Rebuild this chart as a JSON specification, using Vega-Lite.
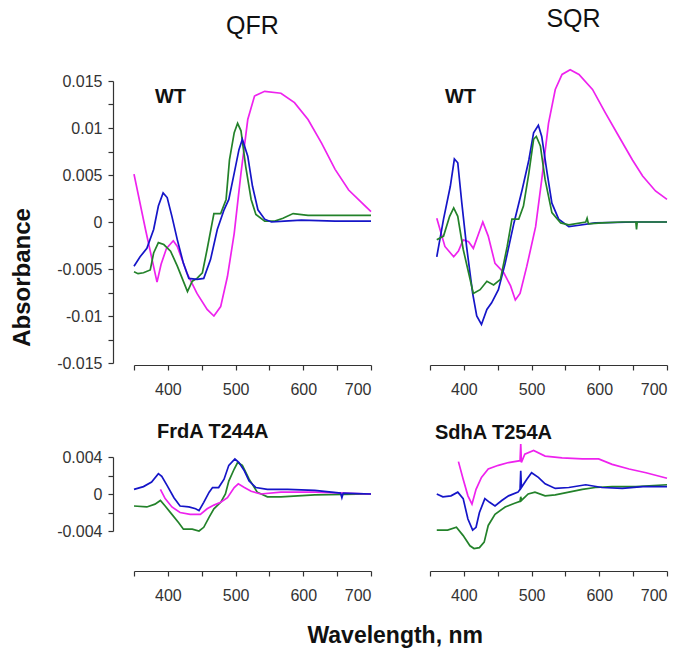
{
  "$schema": "https://vega.github.io/schema/vega-lite/v6.json",
  "background": "white",
  "padding": {"left": 10, "top": 7, "right": 5, "bottom": 2},
  "config": {
    "view": {"stroke": null},
    "font": "Liberation Sans",
    "axis": {"domainColor": "#333", "tickColor": "#333", "labelColor": "#333", "labelFontSize": 16, "labelFont": "Liberation Sans", "grid": false, "tickSize": 5, "domainWidth": 1.2, "tickWidth": 1.2, "labelOverlap": false}
  },
  "title": {"text": "Wavelength, nm", "orient": "bottom", "anchor": "middle", "fontSize": 23, "fontWeight": "bold", "font": "Liberation Sans", "color": "#111", "offset": 22, "dx": 55},
  "datasets": {
    "qfr_wt": [
      {"s":"m","x":350,"y":0.0051},{"s":"m","x":367,"y":-0.0008},{"s":"m","x":384,"y":-0.0064},{"s":"m","x":390,"y":-0.0045},{"s":"m","x":398,"y":-0.0028},{"s":"m","x":408,"y":-0.0020},{"s":"m","x":414,"y":-0.0026},{"s":"m","x":428,"y":-0.0054},{"s":"m","x":443,"y":-0.0076},{"s":"m","x":458,"y":-0.0093},{"s":"m","x":468,"y":-0.0100},{"s":"m","x":478,"y":-0.0090},{"s":"m","x":488,"y":-0.0058},{"s":"m","x":498,"y":-0.0012},{"s":"m","x":508,"y":0.0052},{"s":"m","x":518,"y":0.0109},{"s":"m","x":528,"y":0.0134},{"s":"m","x":543,"y":0.0139},{"s":"m","x":567,"y":0.0137},{"s":"m","x":587,"y":0.0127},{"s":"m","x":607,"y":0.0109},{"s":"m","x":627,"y":0.0084},{"s":"m","x":647,"y":0.0056},{"s":"m","x":667,"y":0.0034},{"s":"m","x":687,"y":0.0020},{"s":"m","x":700,"y":0.0011},
      {"s":"g","x":350,"y":-0.0053},{"s":"g","x":356,"y":-0.0055},{"s":"g","x":364,"y":-0.0054},{"s":"g","x":374,"y":-0.0051},{"s":"g","x":379,"y":-0.0033},{"s":"g","x":386,"y":-0.0022},{"s":"g","x":394,"y":-0.0024},{"s":"g","x":404,"y":-0.0031},{"s":"g","x":414,"y":-0.0047},{"s":"g","x":424,"y":-0.0065},{"s":"g","x":429,"y":-0.0074},{"s":"g","x":436,"y":-0.0063},{"s":"g","x":443,"y":-0.0060},{"s":"g","x":451,"y":-0.0054},{"s":"g","x":458,"y":-0.0029},{"s":"g","x":468,"y":0.0009},{"s":"g","x":478,"y":0.0009},{"s":"g","x":486,"y":0.0024},{"s":"g","x":491,"y":0.0066},{"s":"g","x":498,"y":0.0095},{"s":"g","x":503,"y":0.0105},{"s":"g","x":508,"y":0.0097},{"s":"g","x":515,"y":0.0059},{"s":"g","x":523,"y":0.0024},{"s":"g","x":530,"y":0.0008},{"s":"g","x":543,"y":0.0001},{"s":"g","x":558,"y":0.0001},{"s":"g","x":570,"y":0.0004},{"s":"g","x":585,"y":0.0009},{"s":"g","x":607,"y":0.0007},{"s":"g","x":647,"y":0.0007},{"s":"g","x":700,"y":0.0007},
      {"s":"b","x":350,"y":-0.0047},{"s":"b","x":359,"y":-0.0037},{"s":"b","x":369,"y":-0.0028},{"s":"b","x":379,"y":-0.0008},{"s":"b","x":386,"y":0.0017},{"s":"b","x":393,"y":0.0031},{"s":"b","x":399,"y":0.0026},{"s":"b","x":406,"y":0.0006},{"s":"b","x":414,"y":-0.0019},{"s":"b","x":423,"y":-0.0044},{"s":"b","x":431,"y":-0.0060},{"s":"b","x":443,"y":-0.0061},{"s":"b","x":453,"y":-0.0060},{"s":"b","x":463,"y":-0.0040},{"s":"b","x":473,"y":-0.0008},{"s":"b","x":483,"y":0.0013},{"s":"b","x":490,"y":0.0024},{"s":"b","x":498,"y":0.0052},{"s":"b","x":505,"y":0.0077},{"s":"b","x":510,"y":0.0088},{"s":"b","x":518,"y":0.0070},{"s":"b","x":525,"y":0.0038},{"s":"b","x":533,"y":0.0013},{"s":"b","x":543,"y":0.0003},{"s":"b","x":553,"y":0.0000},{"s":"b","x":572,"y":0.0001},{"s":"b","x":597,"y":0.0002},{"s":"b","x":647,"y":0.0001},{"s":"b","x":700,"y":0.0001}
    ],
    "sqr_wt": [
      {"s":"m","x":360,"y":0.0004},{"s":"m","x":372,"y":-0.0026},{"s":"m","x":385,"y":-0.0037},{"s":"m","x":392,"y":-0.0031},{"s":"m","x":399,"y":-0.0019},{"s":"m","x":407,"y":-0.0021},{"s":"m","x":414,"y":-0.0028},{"s":"m","x":422,"y":-0.0012},{"s":"m","x":428,"y":0.0000},{"s":"m","x":436,"y":-0.0015},{"s":"m","x":446,"y":-0.0044},{"s":"m","x":459,"y":-0.0054},{"s":"m","x":469,"y":-0.0068},{"s":"m","x":476,"y":-0.0083},{"s":"m","x":483,"y":-0.0076},{"s":"m","x":493,"y":-0.0047},{"s":"m","x":506,"y":-0.0005},{"s":"m","x":515,"y":0.0045},{"s":"m","x":525,"y":0.0105},{"s":"m","x":535,"y":0.0141},{"s":"m","x":545,"y":0.0157},{"s":"m","x":557,"y":0.0162},{"s":"m","x":570,"y":0.0157},{"s":"m","x":590,"y":0.0141},{"s":"m","x":609,"y":0.0116},{"s":"m","x":629,"y":0.0091},{"s":"m","x":649,"y":0.0066},{"s":"m","x":664,"y":0.0049},{"s":"m","x":683,"y":0.0033},{"s":"m","x":700,"y":0.0024},
      {"s":"b","x":360,"y":-0.0037},{"s":"b","x":370,"y":0.0003},{"s":"b","x":380,"y":0.0038},{"s":"b","x":386,"y":0.0067},{"s":"b","x":391,"y":0.0063},{"s":"b","x":397,"y":0.0020},{"s":"b","x":404,"y":-0.0026},{"s":"b","x":413,"y":-0.0076},{"s":"b","x":419,"y":-0.0100},{"s":"b","x":426,"y":-0.0109},{"s":"b","x":434,"y":-0.0093},{"s":"b","x":441,"y":-0.0086},{"s":"b","x":451,"y":-0.0072},{"s":"b","x":461,"y":-0.0044},{"s":"b","x":474,"y":-0.0001},{"s":"b","x":486,"y":0.0034},{"s":"b","x":496,"y":0.0066},{"s":"b","x":503,"y":0.0095},{"s":"b","x":510,"y":0.0103},{"s":"b","x":515,"y":0.0091},{"s":"b","x":523,"y":0.0052},{"s":"b","x":530,"y":0.0020},{"s":"b","x":540,"y":0.0003},{"s":"b","x":555,"y":-0.0005},{"s":"b","x":565,"y":-0.0004},{"s":"b","x":594,"y":-0.0001},{"s":"b","x":654,"y":0.0000},{"s":"b","x":700,"y":0.0000},
      {"s":"g","x":360,"y":-0.0019},{"s":"g","x":370,"y":-0.0015},{"s":"g","x":379,"y":0.0006},{"s":"g","x":385,"y":0.0015},{"s":"g","x":391,"y":0.0006},{"s":"g","x":399,"y":-0.0029},{"s":"g","x":407,"y":-0.0054},{"s":"g","x":414,"y":-0.0076},{"s":"g","x":424,"y":-0.0072},{"s":"g","x":434,"y":-0.0063},{"s":"g","x":444,"y":-0.0067},{"s":"g","x":454,"y":-0.0061},{"s":"g","x":464,"y":-0.0026},{"s":"g","x":471,"y":0.0003},{"s":"g","x":481,"y":0.0003},{"s":"g","x":488,"y":0.0017},{"s":"g","x":496,"y":0.0052},{"s":"g","x":503,"y":0.0088},{"s":"g","x":507,"y":0.0091},{"s":"g","x":513,"y":0.0081},{"s":"g","x":520,"y":0.0045},{"s":"g","x":530,"y":0.0010},{"s":"g","x":543,"y":-0.0001},{"s":"g","x":555,"y":-0.0003},{"s":"g","x":580,"y":0.0000},{"s":"g","x":582,"y":0.0004},{"s":"g","x":584,"y":-0.0002},{"s":"g","x":604,"y":-0.0001},{"s":"g","x":634,"y":0.0000},{"s":"g","x":654,"y":0.0000},{"s":"g","x":655,"y":-0.0008},{"s":"g","x":656,"y":0.0000},{"s":"g","x":700,"y":0.0000}
    ],
    "frda": [
      {"s":"g","x":350,"y":-0.0013},{"s":"g","x":369,"y":-0.0014},{"s":"g","x":381,"y":-0.0011},{"s":"g","x":389,"y":-0.0007},{"s":"g","x":396,"y":-0.0013},{"s":"g","x":406,"y":-0.0022},{"s":"g","x":416,"y":-0.0031},{"s":"g","x":423,"y":-0.0038},{"s":"g","x":436,"y":-0.0038},{"s":"g","x":446,"y":-0.0040},{"s":"g","x":453,"y":-0.0036},{"s":"g","x":461,"y":-0.0025},{"s":"g","x":468,"y":-0.0016},{"s":"g","x":478,"y":-0.0009},{"s":"g","x":485,"y":0.0000},{"s":"g","x":490,"y":0.0014},{"s":"g","x":498,"y":0.0027},{"s":"g","x":503,"y":0.0034},{"s":"g","x":510,"y":0.0031},{"s":"g","x":520,"y":0.0016},{"s":"g","x":532,"y":0.0002},{"s":"g","x":547,"y":-0.0003},{"s":"g","x":567,"y":-0.0003},{"s":"g","x":617,"y":-0.0001},{"s":"g","x":700,"y":0.0000},
      {"s":"m","x":389,"y":0.0005},{"s":"m","x":396,"y":-0.0005},{"s":"m","x":406,"y":-0.0014},{"s":"m","x":418,"y":-0.0020},{"s":"m","x":433,"y":-0.0022},{"s":"m","x":448,"y":-0.0022},{"s":"m","x":458,"y":-0.0016},{"s":"m","x":468,"y":-0.0012},{"s":"m","x":478,"y":-0.0009},{"s":"m","x":488,"y":-0.0004},{"s":"m","x":498,"y":0.0007},{"s":"m","x":504,"y":0.0011},{"s":"m","x":513,"y":0.0007},{"s":"m","x":523,"y":0.0003},{"s":"m","x":537,"y":0.0000},{"s":"m","x":567,"y":0.0002},{"s":"m","x":617,"y":0.0002},{"s":"m","x":700,"y":0.0000},
      {"s":"b","x":350,"y":0.0005},{"s":"b","x":364,"y":0.0008},{"s":"b","x":376,"y":0.0013},{"s":"b","x":386,"y":0.0022},{"s":"b","x":391,"y":0.0019},{"s":"b","x":399,"y":0.0009},{"s":"b","x":409,"y":-0.0004},{"s":"b","x":418,"y":-0.0013},{"s":"b","x":431,"y":-0.0014},{"s":"b","x":441,"y":-0.0016},{"s":"b","x":446,"y":-0.0018},{"s":"b","x":453,"y":-0.0009},{"s":"b","x":461,"y":0.0002},{"s":"b","x":466,"y":0.0007},{"s":"b","x":475,"y":0.0007},{"s":"b","x":483,"y":0.0016},{"s":"b","x":490,"y":0.0031},{"s":"b","x":499,"y":0.0038},{"s":"b","x":505,"y":0.0034},{"s":"b","x":513,"y":0.0025},{"s":"b","x":520,"y":0.0014},{"s":"b","x":530,"y":0.0007},{"s":"b","x":547,"y":0.0005},{"s":"b","x":577,"y":0.0005},{"s":"b","x":617,"y":0.0004},{"s":"b","x":655,"y":0.0001},{"s":"b","x":657,"y":-0.0004},{"s":"b","x":659,"y":0.0001},{"s":"b","x":700,"y":0.0000}
    ],
    "sdha": [
      {"s":"m","x":392,"y":0.0035},{"s":"m","x":399,"y":0.0016},{"s":"m","x":406,"y":-0.0002},{"s":"m","x":412,"y":-0.0011},{"s":"m","x":418,"y":0.0005},{"s":"m","x":426,"y":0.0018},{"s":"m","x":436,"y":0.0027},{"s":"m","x":451,"y":0.0031},{"s":"m","x":466,"y":0.0034},{"s":"m","x":483,"y":0.0036},{"s":"m","x":484,"y":0.0054},{"s":"m","x":485,"y":0.0034},{"s":"m","x":490,"y":0.0043},{"s":"m","x":503,"y":0.0047},{"s":"m","x":520,"y":0.0041},{"s":"m","x":545,"y":0.0039},{"s":"m","x":575,"y":0.0038},{"s":"m","x":599,"y":0.0038},{"s":"m","x":619,"y":0.0032},{"s":"m","x":644,"y":0.0027},{"s":"m","x":669,"y":0.0023},{"s":"m","x":700,"y":0.0017},
      {"s":"g","x":360,"y":-0.0039},{"s":"g","x":376,"y":-0.0039},{"s":"g","x":389,"y":-0.0036},{"s":"g","x":399,"y":-0.0045},{"s":"g","x":409,"y":-0.0056},{"s":"g","x":415,"y":-0.0059},{"s":"g","x":423,"y":-0.0058},{"s":"g","x":430,"y":-0.0052},{"s":"g","x":436,"y":-0.0034},{"s":"g","x":446,"y":-0.0022},{"s":"g","x":461,"y":-0.0014},{"s":"g","x":475,"y":-0.0010},{"s":"g","x":483,"y":-0.0008},{"s":"g","x":484,"y":-0.0003},{"s":"g","x":485,"y":-0.0007},{"s":"g","x":495,"y":0.0000},{"s":"g","x":505,"y":0.0002},{"s":"g","x":520,"y":-0.0002},{"s":"g","x":535,"y":-0.0001},{"s":"g","x":555,"y":0.0002},{"s":"g","x":575,"y":0.0005},{"s":"g","x":594,"y":0.0007},{"s":"g","x":619,"y":0.0008},{"s":"g","x":654,"y":0.0008},{"s":"g","x":700,"y":0.0010},
      {"s":"b","x":360,"y":0.0000},{"s":"b","x":369,"y":-0.0003},{"s":"b","x":381,"y":-0.0002},{"s":"b","x":391,"y":0.0002},{"s":"b","x":399,"y":-0.0005},{"s":"b","x":406,"y":-0.0027},{"s":"b","x":413,"y":-0.0039},{"s":"b","x":418,"y":-0.0036},{"s":"b","x":423,"y":-0.0020},{"s":"b","x":431,"y":-0.0005},{"s":"b","x":438,"y":-0.0009},{"s":"b","x":446,"y":-0.0013},{"s":"b","x":456,"y":-0.0007},{"s":"b","x":466,"y":-0.0002},{"s":"b","x":480,"y":0.0002},{"s":"b","x":483,"y":0.0005},{"s":"b","x":484,"y":0.0025},{"s":"b","x":485,"y":0.0007},{"s":"b","x":493,"y":0.0016},{"s":"b","x":500,"y":0.0023},{"s":"b","x":510,"y":0.0018},{"s":"b","x":520,"y":0.0011},{"s":"b","x":535,"y":0.0006},{"s":"b","x":555,"y":0.0007},{"s":"b","x":580,"y":0.0010},{"s":"b","x":604,"y":0.0007},{"s":"b","x":634,"y":0.0006},{"s":"b","x":664,"y":0.0008},{"s":"b","x":700,"y":0.0008}
    ]
  },
  "columns": 2,
  "align": "each",
  "spacing": {"row": 25, "column": 54},
  "concat": [
    {
      "width": 237, "height": 282,
      "title": {"text": "QFR", "fontSize": 25, "fontWeight": "normal", "anchor": "middle", "frame": "group", "offset": 14, "baseline": "alphabetic", "color": "#111", "font": "Liberation Sans"},
      "encoding": {
        "x": {"field": "x", "type": "quantitative", "scale": {"domain": [350, 700], "nice": false, "zero": false},
              "axis": {"values": [350,400,450,500,550,600,650,700], "labelExpr": "datum.value % 100 === 0 ? datum.label : ''", "format": "d", "title": null, "offset": 2, "labelPadding": 11}},
        "y": {"field": "y", "type": "quantitative", "scale": {"domain": [-0.015, 0.015], "nice": false, "zero": false},
              "axis": {"values": [-0.015,-0.0125,-0.01,-0.0075,-0.005,-0.0025,0,0.0025,0.005,0.0075,0.01,0.0125,0.015],
                       "labelExpr": "abs(round(datum.value*10000)) % 50 === 0 ? (datum.value < 0 ? '-' + format(-datum.value, '~g') : format(datum.value, '~g')) : ''",
                       "offset": 21, "labelPadding": 6,
                       "title": "Absorbance", "titleFontSize": 24, "titleFontWeight": "bold", "titleColor": "#111", "titleFont": "Liberation Sans",
                       "titleX": -91, "titleY": 196, "titleAngle": -90, "titleAlign": "center", "titleBaseline": "middle"}}
      },
      "layer": [
        {
          "data": {"name": "qfr_wt"},
          "mark": {"type": "line", "strokeWidth": 1.7, "clip": false},
          "encoding": {
            "color": {"field": "s", "type": "nominal", "scale": {"domain": ["m","g","b"], "range": ["#ee22ee","#23822a","#1515c8"]}, "legend": null}
          }
        },
        {
          "data": {"values": [{"x": 381, "y": 0.0127, "t": "WT"}]},
          "mark": {"type": "text", "align": "left", "baseline": "alphabetic", "fontSize": 20, "fontWeight": "bold", "color": "#111", "font": "Liberation Sans"},
          "encoding": {"text": {"field": "t"}}
        }
      ]
    },
    {
      "width": 237, "height": 282,
      "title": {"text": "SQR", "fontSize": 25, "fontWeight": "normal", "anchor": "middle", "frame": "group", "offset": 14, "dx": 25, "baseline": "alphabetic", "color": "#111", "font": "Liberation Sans"},
      "encoding": {
        "x": {"field": "x", "type": "quantitative", "scale": {"domain": [350, 700], "nice": false, "zero": false},
              "axis": {"values": [350,400,450,500,550,600,650,700], "labelExpr": "datum.value % 100 === 0 ? datum.label : ''", "format": "d", "title": null, "offset": 2, "labelPadding": 11}},
        "y": {"field": "y", "type": "quantitative", "scale": {"domain": [-0.015, 0.015], "nice": false, "zero": false}, "axis": null}
      },
      "layer": [
        {
          "data": {"name": "sqr_wt"},
          "mark": {"type": "line", "strokeWidth": 1.7, "clip": false},
          "encoding": {
            "color": {"field": "s", "type": "nominal", "scale": {"domain": ["m","g","b"], "range": ["#ee22ee","#23822a","#1515c8"]}, "legend": null}
          }
        },
        {
          "data": {"values": [{"x": 372, "y": 0.0127, "t": "WT"}]},
          "mark": {"type": "text", "align": "left", "baseline": "alphabetic", "fontSize": 20, "fontWeight": "bold", "color": "#111", "font": "Liberation Sans"},
          "encoding": {"text": {"field": "t"}}
        }
      ]
    },
    {
      "width": 237, "height": 74,
      "title": {"text": "FrdA T244A", "fontSize": 20, "fontWeight": "bold", "anchor": "start", "frame": "group", "dx": 23, "offset": -9, "baseline": "alphabetic", "color": "#111", "font": "Liberation Sans"},
      "data": {"name": "frda"},
      "mark": {"type": "line", "strokeWidth": 1.7, "clip": false},
      "encoding": {
        "x": {"field": "x", "type": "quantitative", "scale": {"domain": [350, 700], "nice": false, "zero": false},
              "axis": {"values": [350,400,450,500,550,600,650,700], "labelExpr": "datum.value % 100 === 0 ? datum.label : ''", "format": "d", "title": null, "offset": 40, "labelPadding": 11}},
        "y": {"field": "y", "type": "quantitative", "scale": {"domain": [-0.004, 0.004], "nice": false, "zero": false},
              "axis": {"values": [-0.004,-0.002,0,0.002,0.004],
                       "labelExpr": "abs(round(datum.value*1000)) % 4 === 0 ? (datum.value < 0 ? '-' + format(-datum.value, '~g') : format(datum.value, '~g')) : ''",
                       "offset": 21, "labelPadding": 6, "title": null}},
        "color": {"field": "s", "type": "nominal", "scale": {"domain": ["m","g","b"], "range": ["#ee22ee","#23822a","#1515c8"]}, "legend": null}
      }
    },
    {
      "width": 237, "height": 74,
      "title": {"text": "SdhA T254A", "fontSize": 20, "fontWeight": "bold", "anchor": "start", "frame": "group", "dx": 5, "offset": -18, "baseline": "alphabetic", "color": "#111", "font": "Liberation Sans"},
      "data": {"name": "sdha"},
      "mark": {"type": "line", "strokeWidth": 1.7, "clip": false},
      "encoding": {
        "x": {"field": "x", "type": "quantitative", "scale": {"domain": [350, 700], "nice": false, "zero": false},
              "axis": {"values": [350,400,450,500,550,600,650,700], "labelExpr": "datum.value % 100 === 0 ? datum.label : ''", "format": "d", "title": null, "offset": 40, "labelPadding": 11}},
        "y": {"field": "y", "type": "quantitative", "scale": {"domain": [-0.004, 0.004], "nice": false, "zero": false}, "axis": null},
        "color": {"field": "s", "type": "nominal", "scale": {"domain": ["m","g","b"], "range": ["#ee22ee","#23822a","#1515c8"]}, "legend": null}
      }
    }
  ]
}
